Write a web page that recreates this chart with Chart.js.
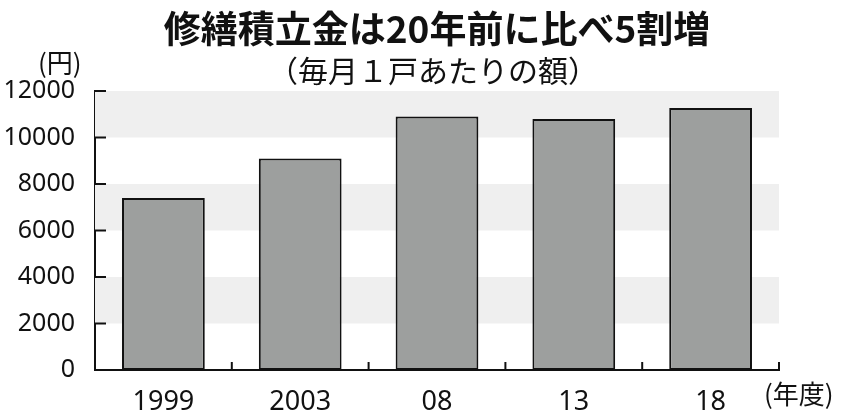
<!DOCTYPE html>
<html lang="ja">
<head>
<meta charset="utf-8">
<title>修繕積立金は20年前に比べ5割増</title>
<script src="https://cdn.jsdelivr.net/npm/chart.js@4.4.1/dist/chart.umd.min.js"></script>
<style>
  html, body { margin: 0; padding: 0; background: #fff; }
  #wrap { width: 846px; height: 417px; }
</style>
</head>
<body>
<div id="wrap"><canvas id="chart" width="846" height="417"></canvas></div>
<script>
const years = ['1999', '2003', '08', '13', '18'];
const amounts = [7400, 9100, 10900, 10800, 11270];
const yTicks = [0, 2000, 4000, 6000, 8000, 10000, 12000];
const bands = [[2000, 4000], [6000, 8000], [10000, 12000]];

const titleText = '修繕積立金は20年前に比べ5割増';
const subtitleText = '（毎月１戸あたりの額）';
const yUnit = '(円)';
const xUnit = '(年度)';

const cjk = '"Noto Sans CJK JP", "Noto Sans", sans-serif';

// grey bands behind the bars
const bandPlugin = {
  id: 'bands',
  beforeDatasetsDraw(chart) {
    const { ctx, chartArea, scales } = chart;
    ctx.save();
    ctx.fillStyle = '#efefef';
    bands.forEach(([from, to]) => {
      const y1 = scales.y.getPixelForValue(to);
      const y2 = scales.y.getPixelForValue(from);
      ctx.fillRect(chartArea.left, y1, chartArea.right - chartArea.left, y2 - y1);
    });
    ctx.restore();
  }
};

// ticks point into the plot, and the texts around it
const extrasPlugin = {
  id: 'extras',
  afterDatasetsDraw(chart) {
    const { ctx, chartArea, scales } = chart;
    ctx.save();
    ctx.strokeStyle = '#111';
    ctx.lineWidth = 2;
    yTicks.slice(1).forEach(v => {
      const y = scales.y.getPixelForValue(v);
      ctx.beginPath();
      ctx.moveTo(chartArea.left - 1, y);
      ctx.lineTo(chartArea.left + 11, y);
      ctx.stroke();
    });
    for (let i = 0; i < years.length; i++) {
      const x = i < years.length - 1
        ? (scales.x.getPixelForValue(i) + scales.x.getPixelForValue(i + 1)) / 2
        : chartArea.right;
      ctx.beginPath();
      ctx.moveTo(x, chartArea.bottom + 1);
      ctx.lineTo(x, chartArea.bottom - 8);
      ctx.stroke();
    }
    ctx.restore();
  },
  afterDraw(chart) {
    const { ctx } = chart;
    ctx.save();
    ctx.fillStyle = '#111';
    ctx.textBaseline = 'middle';
    ctx.textAlign = 'center';
    ctx.font = 'bold 37px ' + cjk;
    ctx.fillText(titleText, 437, 29);
    ctx.font = '30px ' + cjk;
    ctx.fillText(subtitleText, 433, 71);
    ctx.textAlign = 'left';
    ctx.font = '26px ' + cjk;
    ctx.fillText(yUnit, 38, 63);
    ctx.fillText(xUnit, 764, 394);
    ctx.restore();
  }
};

new Chart(document.getElementById('chart'), {
  type: 'bar',
  data: {
    labels: years,
    datasets: [{
      data: amounts,
      backgroundColor: '#9d9f9e',
      borderColor: '#111',
      borderWidth: 2,
      borderSkipped: false,
      barPercentage: 0.605,
      categoryPercentage: 1
    }]
  },
  options: {
    responsive: false,
    animation: false,
    layout: { padding: { top: 91, right: 67, bottom: 0, left: 0 } },
    plugins: {
      legend: { display: false },
      tooltip: { enabled: false }
    },
    scales: {
      x: {
        grid: { display: false },
        border: { display: true, color: '#111', width: 2 },
        ticks: {
          color: '#111',
          padding: 8,
          font: { family: '"Noto Sans", sans-serif', size: 27 }
        },
        afterFit(scale) { scale.height = 47; }
      },
      y: {
        min: 0,
        max: 12000,
        grid: { display: false },
        border: { display: true, color: '#111', width: 2 },
        ticks: {
          stepSize: 2000,
          color: '#111',
          padding: 12,
          font: { family: '"Noto Sans", sans-serif', size: 25 },
          callback: v => String(v)
        },
        afterFit(scale) { scale.width = 95; }
      }
    }
  },
  plugins: [bandPlugin, extrasPlugin]
});
</script>
</body>
</html>
